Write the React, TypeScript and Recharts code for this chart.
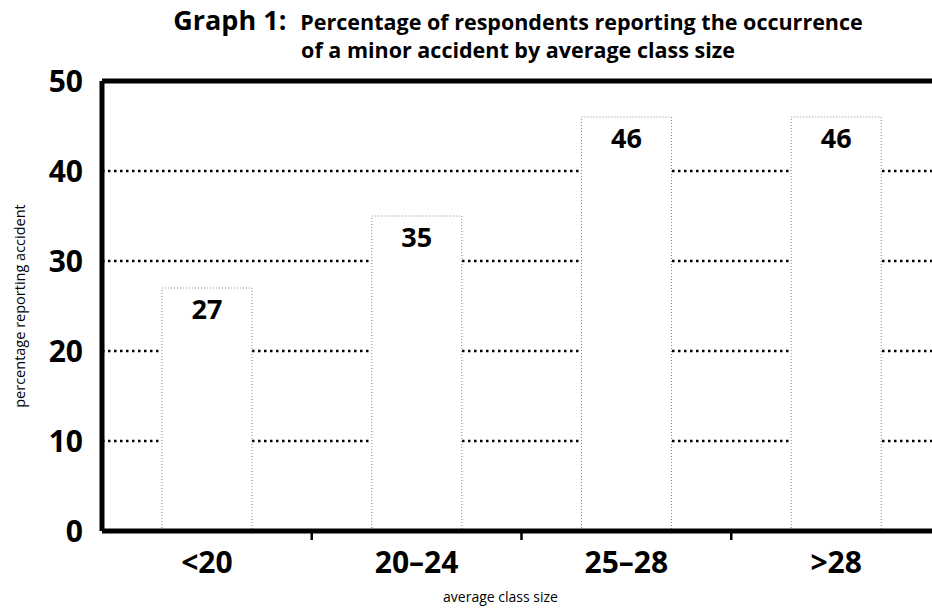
import React from 'react'
import {
  BarChart,
  Bar,
  XAxis,
  YAxis,
  CartesianGrid,
  ReferenceLine,
  LabelList,
} from 'recharts'

const categories = ['<20', '20–24', '25–28', '>28']
const percentReporting = [27, 35, 46, 46]
const yTicks = [0, 10, 20, 30, 40, 50]

const FONT = '"Open Sans", sans-serif'
const CHART_W = 941
const CHART_H = 608
const AXIS_W = 102
const BAND = (CHART_W - AXIS_W) / categories.length

const data = categories.map((c, i) => ({ category: c, value: percentReporting[i] }))

function XTick(props: any) {
  const { x, y, payload, index } = props
  const half = payload?.offset || BAND / 2
  return (
    <g>
      <text
        x={x}
        y={y + 42}
        textAnchor="middle"
        fontFamily={FONT}
        fontSize={30}
        fontWeight={700}
        fill="#000"
      >
        {payload.value}
      </text>
      {index < categories.length - 1 && (
        <line x1={x + half} x2={x + half} y1={y} y2={y + 9} stroke="#000" strokeWidth={2.5} />
      )}
    </g>
  )
}

export default function App() {
  return (
    <div
      style={{
        position: 'absolute',
        top: 0,
        left: 0,
        width: 932,
        height: CHART_H,
        overflow: 'hidden',
        background: '#fff',
      }}
    >
      <BarChart
        width={CHART_W}
        height={CHART_H}
        data={data}
        margin={{ top: 81, right: 0, bottom: 0, left: 0 }}
        barCategoryGap={0}
      >
        <CartesianGrid
          vertical={false}
          stroke="#000"
          strokeWidth={2.5}
          strokeDasharray="2.5 3.5"
        />
        <XAxis
          dataKey="category"
          height={77}
          tickLine={false}
          tickSize={0}
          tickMargin={0}
          axisLine={{ stroke: '#000', strokeWidth: 5 }}
          tick={<XTick />}
          interval={0}
          label={{
            value: 'average class size',
            position: 'insideBottom',
            offset: 6,
            dx: -21,
            style: { fontFamily: FONT, fontSize: 14, fill: '#000' },
          }}
        />
        <YAxis
          width={AXIS_W}
          domain={[0, 50]}
          ticks={yTicks}
          interval={0}
          tickLine={false}
          tickSize={0}
          tickMargin={19}
          axisLine={{ stroke: '#000', strokeWidth: 5 }}
          tick={{ fontFamily: FONT, fontSize: 30, fontWeight: 700, fill: '#000' }}
          label={{
            value: 'percentage reporting accident',
            angle: -90,
            position: 'insideLeft',
            offset: 20,
            style: { textAnchor: 'middle', fontFamily: FONT, fontSize: 14.5, fill: '#000' },
          }}
        />
        <ReferenceLine y={50} stroke="#000" strokeWidth={5} />
        <Bar
          dataKey="value"
          barSize={90}
          fill="#fff"
          stroke="#8a8a8a"
          strokeWidth={1}
          strokeDasharray="1 2"
          isAnimationActive={false}
        >
          <LabelList
            dataKey="value"
            position="insideTop"
            offset={12}
            style={{ fontFamily: FONT, fontSize: 27, fontWeight: 700, fill: '#000' }}
          />
        </Bar>
      </BarChart>
      <svg
        width={932}
        height={70}
        style={{ position: 'absolute', top: 0, left: 0, pointerEvents: 'none' }}
      >
        <text x={518} y={30} textAnchor="middle" fontFamily={FONT} fontWeight={700} fill="#000">
          <tspan fontSize={27}>Graph 1:</tspan>
          <tspan fontSize={21.5} dx={14}>
            Percentage of respondents reporting the occurrence
          </tspan>
        </text>
        <text
          x={518}
          y={58}
          textAnchor="middle"
          fontFamily={FONT}
          fontWeight={700}
          fontSize={21.5}
          fill="#000"
        >
          of a minor accident by average class size
        </text>
      </svg>
    </div>
  )
}
